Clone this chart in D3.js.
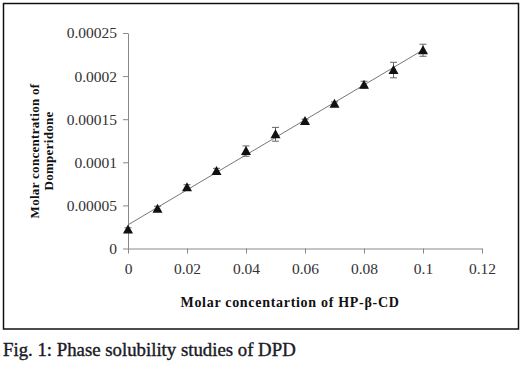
<!DOCTYPE html>
<html>
<head>
<meta charset="utf-8">
<script src="https://cdn.jsdelivr.net/npm/d3@7"></script>
<style>
  body { margin: 0; background: #fff; }
  svg text { font-family: "Liberation Serif", "Times New Roman", serif; }
</style>
</head>
<body>
<svg id="chart" width="524" height="368"></svg>
<script>
(function() {

// HP-beta-CD molar concentration
var cdConc = [0, 0.01, 0.02, 0.03, 0.04, 0.05, 0.06, 0.07, 0.08, 0.09, 0.1];
// domperidone molar concentration
var dpdConc = [0.000022, 0.000046, 0.000071, 0.00009, 0.000113, 0.0001325, 0.000148, 0.000168, 0.00019, 0.000207, 0.00023];
var dpdErr = [0.000002, 0.000003, 0.000003, 0.000003, 0.000006, 0.000008, 0.000002, 0.000002, 0.000004, 0.000009, 0.000007];

var xTicks = [0, 0.02, 0.04, 0.06, 0.08, 0.1, 0.12];
var yTicks = [0, 0.00005, 0.0001, 0.00015, 0.0002, 0.00025];

var svg = d3.select('#chart');

// frame round the figure
svg.append('rect')
    .attr('x', 3.5).attr('y', 3.5)
    .attr('width', 515).attr('height', 325.5)
    .attr('fill', 'none')
    .attr('stroke', '#111')
    .attr('stroke-width', 1.5);

var x = d3.scaleLinear().domain([0, 0.12]).range([128, 482]);
var y = d3.scaleLinear().domain([0, 0.00025]).range([248.5, 33]);

// axes
var xAxis = svg.append('g')
    .attr('transform', 'translate(0,' + y(0) + ')')
    .call(d3.axisBottom(x).tickValues(xTicks).tickSize(5).tickSizeOuter(0).tickPadding(9)
        .tickFormat(function(t) { return String(+t.toFixed(2)); }));

var yAxis = svg.append('g')
    .attr('transform', 'translate(' + x(0) + ',0)')
    .call(d3.axisLeft(y).tickValues(yTicks).tickSize(5).tickSizeOuter(0).tickPadding(6)
        .tickFormat(function(t) { return t === 0 ? '0' : String(+t.toFixed(5)); }));

[xAxis, yAxis].forEach(function(a) {
    a.attr('font-family', 'Liberation Serif');
    a.select('.domain').attr('stroke', '#888');
    a.selectAll('.tick line').attr('stroke', '#888');
    a.selectAll('.tick text')
        .attr('fill', '#333')
        .attr('font-size', 15.5);
});

// least squares trendline
var n = cdConc.length;
var mx = d3.mean(cdConc), my = d3.mean(dpdConc);
var sxy = d3.sum(cdConc, function(v, i) { return (v - mx) * (dpdConc[i] - my); });
var sxx = d3.sum(cdConc, function(v) { return (v - mx) * (v - mx); });
var slope = sxy / sxx, icpt = my - slope * mx;

svg.append('line')
    .attr('x1', x(cdConc[0])).attr('y1', y(icpt + slope * cdConc[0]))
    .attr('x2', x(cdConc[n - 1])).attr('y2', y(icpt + slope * cdConc[n - 1]))
    .attr('stroke', '#777')
    .attr('stroke-width', 1);

// error bars
var eb = svg.append('g').attr('stroke', '#666').attr('stroke-width', 1);
cdConc.forEach(function(c, i) {
    var cx = x(c), top = y(dpdConc[i] + dpdErr[i]), bot = y(dpdConc[i] - dpdErr[i]);
    eb.append('line').attr('x1', cx).attr('x2', cx).attr('y1', top).attr('y2', bot);
    eb.append('line').attr('x1', cx - 3.5).attr('x2', cx + 3.5).attr('y1', top).attr('y2', top);
    eb.append('line').attr('x1', cx - 3.5).attr('x2', cx + 3.5).attr('y1', bot).attr('y2', bot);
});

// triangle markers
svg.append('g').selectAll('path')
    .data(cdConc)
  .enter().append('path')
    .attr('d', 'M0,-5L5,4L-5,4Z')
    .attr('transform', function(d, i) { return 'translate(' + x(d) + ',' + y(dpdConc[i]) + ')'; })
    .attr('fill', '#111');

// axis titles
svg.append('text')
    .attr('x', 290).attr('y', 307)
    .attr('text-anchor', 'middle')
    .attr('font-size', 14)
    .attr('font-weight', 'bold')
    .attr('letter-spacing', 0.7)
    .attr('fill', '#111')
    .text('Molar concentartion of HP-β-CD');

var yt = svg.append('text')
    .attr('transform', 'translate(39,151) rotate(-90)')
    .attr('text-anchor', 'middle')
    .attr('font-size', 13)
    .attr('font-weight', 'bold')
    .attr('letter-spacing', 0.3)
    .attr('fill', '#111');
yt.append('tspan').attr('x', 0).attr('y', 0).text('Molar concentration of');
yt.append('tspan').attr('x', 0).attr('y', 13.5).text('Domperidone');

// caption
svg.append('text')
    .attr('x', 3).attr('y', 356)
    .attr('font-size', 18.8)
    .attr('fill', '#1a1a26')
    .attr('stroke', '#1a1a26')
    .attr('stroke-width', 0.4)
    .text('Fig. 1: Phase solubility studies of DPD');

})();
</script>
</body>
</html>
